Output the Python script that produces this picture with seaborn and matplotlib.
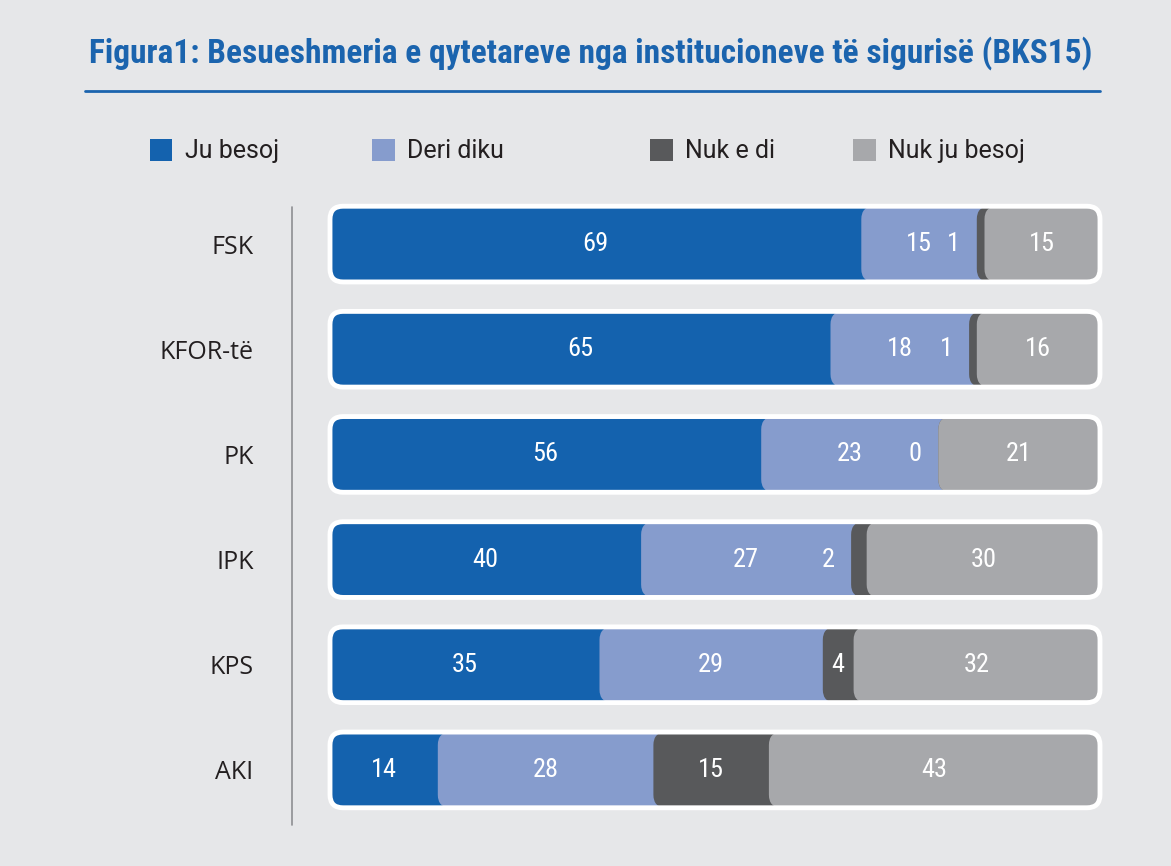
import numpy as np
import pandas as pd
import matplotlib
matplotlib.use("Agg")
import matplotlib.pyplot as plt
import seaborn as sns
from matplotlib.patches import FancyBboxPatch, Patch
from matplotlib.lines import Line2D

institutions = ["FSK", "KFOR-të", "PK", "IPK", "KPS", "AKI"]
answers = ["Ju besoj", "Deri diku", "Nuk e di", "Nuk ju besoj"]
ju_besoj = [69, 65, 56, 40, 35, 14]
deri_diku = [15, 18, 23, 27, 29, 28]
nuk_e_di = [1, 1, 0, 2, 4, 15]
nuk_ju_besoj = [15, 16, 21, 30, 32, 43]

colors = ["#1462AE", "#869CCD", "#58595B", "#A7A8AB"]
bg = "#E6E7E9"
title_blue = "#1B64AE"
narrow = ["Roboto Condensed", "Roboto", "DejaVu Sans"]

df = pd.DataFrame({"inst": institutions, "Ju besoj": ju_besoj, "Deri diku": deri_diku,
                   "Nuk e di": nuk_e_di, "Nuk ju besoj": nuk_ju_besoj})
vals = df[answers].to_numpy(dtype=float)
# shares of 100 so that every bar spans the full width
shares = vals / vals.sum(axis=1, keepdims=True) * 100
lefts = np.hstack([np.zeros((len(df), 1)), np.cumsum(shares, axis=1)[:, :-1]])

sns.set_style("white")
plt.rcParams["font.family"] = ["Roboto", "DejaVu Sans"]

fig = plt.figure(figsize=(11.71, 8.66), dpi=100, facecolor=bg)
ax = fig.add_axes([330 / 1171, 1 - 822.5 / 866, 770 / 1171, (822.5 - 191.5) / 866])
ax.set_facecolor(bg)

# each segment runs from its start to the bar end, later ones drawn on top
for k, name in enumerate(answers):
    df["_w"] = 100 - lefts[:, k]
    sns.barplot(data=df, x="_w", y="inst", order=institutions, orient="h",
                color=colors[k], width=0.72, left=lefts[:, k], ax=ax,
                saturation=1, linewidth=0, zorder=2 + k)

ax.set_xlim(0, 100)
ax.set_ylim(5.5, -0.5)

# round the corners of the bars
px_x = 770 / 100
px_y = (822.5 - 191.5) / 6
aspect = px_x / px_y
rad = 13 / px_x
rects = list(ax.patches)
for r in rects:
    x, y, w, h = r.get_x(), r.get_y(), r.get_width(), r.get_height()
    fb = FancyBboxPatch((x, y), w, h, boxstyle=f"round,pad=0,rounding_size={rad}",
                        mutation_aspect=aspect, facecolor=r.get_facecolor(),
                        edgecolor="none", zorder=r.get_zorder())
    r.remove()
    ax.add_patch(fb)

# white outline around each whole bar
for i in range(len(institutions)):
    ax.add_patch(FancyBboxPatch((0, i - 0.36), 100, 0.72,
                                boxstyle=f"round,pad=0,rounding_size={rad}",
                                mutation_aspect=aspect, facecolor="none",
                                edgecolor="white", linewidth=3.5, zorder=10,
                                clip_on=False))

# value labels
for i in range(len(institutions)):
    for k in range(len(answers)):
        v = vals[i, k]
        xc = lefts[i, k] + shares[i, k] / 2
        if v < 3 and k == 2:
            xc = lefts[i, k] - 3
        ax.text(xc, i, f"{int(v)}", color="white", fontsize=19,
                ha="center", va="center", zorder=12, family=narrow)

ax.set_yticks(range(len(institutions)))
ax.set_yticklabels(institutions, fontsize=18, color="#231F20",
                   family=["Open Sans", "DejaVu Sans"])
ax.tick_params(axis="y", length=0, pad=55)
ax.set_xticks([])
ax.set_xlabel("")
ax.set_ylabel("")
for s in ax.spines.values():
    s.set_visible(False)

# vertical separator
fig.add_artist(Line2D([292 / 1171, 292 / 1171], [1 - 207 / 866, 1 - 825 / 866],
                      color="#8E8F92", linewidth=1.2))

# title and rule
fig.text(591 / 1171, 1 - 53 / 866,
         "Figura1: Besueshmeria e qytetareve nga institucioneve të sigurisë (BKS15)",
         ha="center", va="center", fontsize=24, fontweight="bold", color=title_blue,
         family=narrow)
fig.add_artist(Line2D([85 / 1171, 1100 / 1171], [1 - 91 / 866, 1 - 91 / 866],
                      color=title_blue, linewidth=2))

# legend
leg_x = [150, 372, 650, 853]
for k, name in enumerate(answers):
    lg = fig.legend(handles=[Patch(facecolor=colors[k], edgecolor="none", label=name)],
                    loc="center left", bbox_to_anchor=(leg_x[k] / 1171, 1 - 151 / 866),
                    frameon=False, fontsize=18, handlelength=0.9, handleheight=1.0,
                    handletextpad=0.5, borderpad=0, borderaxespad=0)
    for t in lg.get_texts():
        t.set_color("#231F20")
        t.set_family(["Roboto", "DejaVu Sans"])

fig.savefig("out.png", dpi=100, facecolor=bg)
